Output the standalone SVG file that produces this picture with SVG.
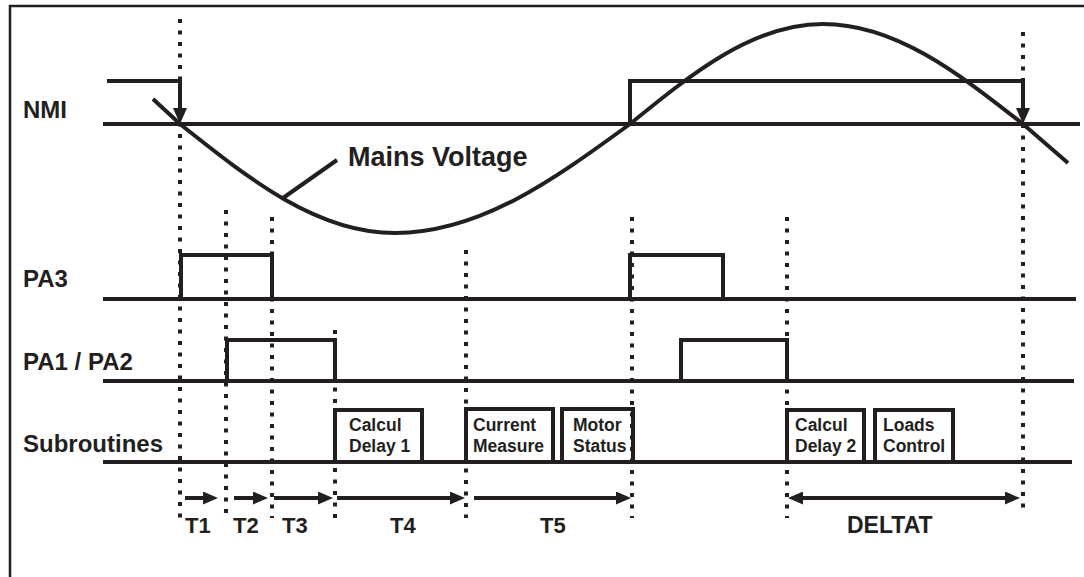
<svg xmlns="http://www.w3.org/2000/svg" width="1084" height="577" viewBox="0 0 1084 577">
<style>
.ln{stroke:#231f20;stroke-width:4;fill:none}
.dot{stroke:#231f20;stroke-width:4;stroke-dasharray:4 7.5;fill:none}
.frame{stroke:#231f20;stroke-width:2.5;fill:none}
.lbl{font-family:"Liberation Sans",Arial,sans-serif;font-weight:bold;font-size:24px;fill:#231f20}
.box{font-family:"Liberation Sans",Arial,sans-serif;font-weight:bold;font-size:17.5px;fill:#231f20}
.tl{font-family:"Liberation Sans",Arial,sans-serif;font-weight:bold;font-size:22px;fill:#231f20}
.arr{stroke:#231f20;stroke-width:4;fill:none;marker-end:url(#ah)}
</style>
<defs>
<marker id="ah" markerUnits="userSpaceOnUse" markerWidth="15" markerHeight="13" refX="7" refY="6.5" orient="auto-start-reverse">
<path d="M0,0 L15,6.5 L0,13 Z" fill="#231f20"/>
</marker>
</defs>
<rect width="1084" height="577" fill="#fff"/>
<path class="frame" d="M10,577 V6 H1084"/>

<g id="labels">
<text class="lbl" x="23" y="118">NMI</text>
<text class="lbl" x="23" y="287">PA3</text>
<text class="lbl" x="23" y="370">PA1 / PA2</text>
<text class="lbl" x="23" y="452">Subroutines</text>
</g>

<g id="dotted">
<line class="dot" x1="180" y1="19" x2="180" y2="518"/>
<line class="dot" x1="226" y1="210" x2="226" y2="518"/>
<line class="dot" x1="272" y1="217" x2="272" y2="518"/>
<line class="dot" x1="335" y1="330" x2="335" y2="518"/>
<line class="dot" x1="466" y1="250" x2="466" y2="518"/>
<line class="dot" x1="632" y1="217" x2="632" y2="518"/>
<line class="dot" x1="787" y1="217" x2="787" y2="518"/>
<line class="dot" x1="1023" y1="32" x2="1023" y2="510"/>
</g>

<g id="nmi">
<line class="ln" x1="103" y1="124" x2="1080" y2="124"/>
<path class="ln" d="M107,81 H180 V114"/>
<path class="ln" d="M630,124 V81 H1023 V114"/>
<path d="M173,108 L187,108 L180,124 Z" fill="#231f20"/>
<path d="M1016,108 L1030,108 L1023,124 Z" fill="#231f20"/>
</g>

<g id="mains">
<path class="ln" d="M153,99 L180,124 C250.1,179.8 317.2,233 395,233 C480,233 553.4,179.8 630,124 C692.9,72.8 753.2,24 823,24 C895.4,24 957.8,72.8 1023,124 L1068,163"/>
<line class="ln" x1="283" y1="198" x2="337" y2="160"/>
<text class="lbl" x="348" y="166" style="font-size:27px">Mains Voltage</text>
</g>

<g id="pa3">
<line class="ln" x1="103" y1="299" x2="1076" y2="299"/>
<path class="ln" d="M181,299 V255 H272 V299"/>
<path class="ln" d="M630,299 V255 H723 V299"/>
</g>

<g id="pa12">
<line class="ln" x1="103" y1="381" x2="1074" y2="381"/>
<path class="ln" d="M227,381 V340 H335 V381"/>
<path class="ln" d="M681,381 V340 H787 V381"/>
</g>

<g id="subroutines">
<line class="ln" x1="103" y1="462" x2="1072" y2="462"/>
</g>

<g id="calcul1">
<path class="ln" d="M335,462 V410 H422 V462"/>
<text class="box" x="349" y="431">Calcul</text>
<text class="box" x="349" y="452">Delay 1</text>
</g>
<g id="current">
<path class="ln" d="M466,462 V409 H553 V462"/>
<text class="box" x="473" y="431">Current</text>
<text class="box" x="473" y="452">Measure</text>
</g>
<g id="motor">
<path class="ln" d="M562,462 V409 H633 V462"/>
<text class="box" x="573" y="431">Motor</text>
<text class="box" x="573" y="452">Status</text>
</g>
<g id="calcul2">
<path class="ln" d="M787,462 V410 H864 V462"/>
<text class="box" x="795" y="431">Calcul</text>
<text class="box" x="795" y="452">Delay 2</text>
</g>
<g id="loads">
<path class="ln" d="M875,462 V410 H953 V462"/>
<text class="box" x="883" y="431">Loads</text>
<text class="box" x="883" y="452">Control</text>
</g>

<g id="connectors">
<line class="arr" x1="185" y1="498" x2="210" y2="498"/>
<line class="arr" x1="234" y1="498" x2="260" y2="498"/>
<line class="arr" x1="274" y1="498" x2="325" y2="498"/>
<line class="arr" x1="337" y1="498" x2="457" y2="498"/>
<line class="arr" x1="474" y1="498" x2="623" y2="498"/>
<line class="arr" x1="796" y1="498" x2="1012" y2="498" style="marker-start:url(#ah)"/>
</g>

<g id="timelabels">
<text class="tl" x="185" y="533">T1</text>
<text class="tl" x="233" y="533">T2</text>
<text class="tl" x="282" y="533">T3</text>
<text class="tl" x="390" y="533">T4</text>
<text class="tl" x="540" y="533">T5</text>
<text class="tl" x="847" y="533" style="font-size:23px">DELTAT</text>
</g>
</svg>
